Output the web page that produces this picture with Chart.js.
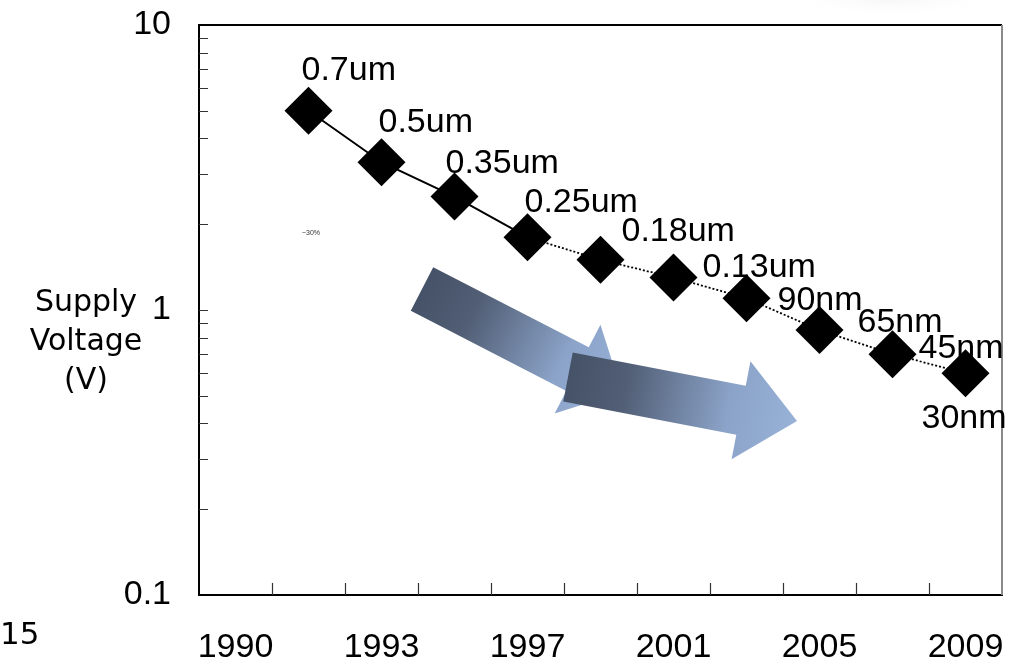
<!DOCTYPE html>
<html>
<head>
<meta charset="utf-8">
<script src="https://cdn.jsdelivr.net/npm/chart.js@4/dist/chart.umd.min.js"></script>
<style>
  body { margin: 0; background: #fff; }
  canvas { display: block; }
</style>
</head>
<body>
<canvas id="vdd_scaling" width="1019" height="664"></canvas>
<script>
// x categories (one band per two years, labels every other band)
const years = ['1990', '', '1993', '', '1997', '', '2001', '', '2005', '', '2009'];
// technology node shown next to each point
const nodes = ['', '0.7um', '0.5um', '0.35um', '0.25um', '0.18um', '0.13um', '90nm', '65nm', '45nm', '30nm'];
// supply voltage (V)
const voltage = [null, 5.0, 3.3, 2.5, 1.8, 1.5, 1.3, 1.1, 0.85, 0.7, 0.6];
// labelled ticks on the log axis
const yMajorTicks = [0.1, 1, 10];

// where each node label sits relative to its point (dx to text start, dy to text middle)
const labelOffsets = [null, [-7, -40], [-3, -40], [-9, -33], [-3, -35], [21, -28], [29, -10], [31, 2], [38, -7], [26, -6], [-44, 45]];

const decorPlugin = {
    id: 'decor',
    beforeDatasetsDraw(chart) {
        const ctx = chart.ctx;
        // two gradient arrows
        const arrows = [
            { x0: 422, y0: 289, x1: 622, y1: 392, shaft: 49, head: 100, headLen: 50 },
            { x0: 568, y0: 377, x1: 797, y1: 421, shaft: 50, head: 100, headLen: 57 }
        ];
        arrows.forEach(a => {
            const len = Math.hypot(a.x1 - a.x0, a.y1 - a.y0);
            const ang = Math.atan2(a.y1 - a.y0, a.x1 - a.x0);
            ctx.save();
            ctx.translate(a.x0, a.y0);
            ctx.rotate(ang);
            const g = ctx.createLinearGradient(0, 0, len, 0);
            g.addColorStop(0, '#465267');
            g.addColorStop(0.25, '#515e75');
            g.addColorStop(0.7, '#8ba3c8');
            g.addColorStop(1, '#98b1d7');
            ctx.fillStyle = g;
            const sb = len - a.headLen;
            ctx.beginPath();
            ctx.moveTo(0, -a.shaft / 2);
            ctx.lineTo(sb, -a.shaft / 2);
            ctx.lineTo(sb, -a.head / 2);
            ctx.lineTo(len, 0);
            ctx.lineTo(sb, a.head / 2);
            ctx.lineTo(sb, a.shaft / 2);
            ctx.lineTo(0, a.shaft / 2);
            ctx.closePath();
            ctx.fill();
            ctx.restore();
        });
    },
    afterDraw(chart) {
        const ctx = chart.ctx;
        const area = chart.chartArea;
        const xs = chart.scales.x;
        const ys = chart.scales.y;
        ctx.save();
        // box: top and right edges
        ctx.strokeStyle = '#000';
        ctx.lineWidth = 2;
        ctx.beginPath();
        ctx.moveTo(area.left, area.top);
        ctx.lineTo(area.right, area.top);
        ctx.stroke();
        ctx.strokeStyle = '#8a8a8a';
        ctx.beginPath();
        ctx.moveTo(area.right, area.top);
        ctx.lineTo(area.right, area.bottom);
        ctx.stroke();

        // inward tick marks
        ctx.strokeStyle = '#333';
        ctx.lineWidth = 1.2;
        ctx.beginPath();
        for (let i = 1; i < years.length; i++) {
            const x = Math.round((xs.getPixelForValue(i - 1) + xs.getPixelForValue(i)) / 2) + 0.5;
            ctx.moveTo(x, area.bottom);
            ctx.lineTo(x, area.bottom - 12);
        }
        ys.ticks.forEach(t => {
            const y = Math.round(ys.getPixelForValue(t.value)) + 0.5;
            if (y <= area.top + 1 || y >= area.bottom - 1) return;
            ctx.moveTo(area.left, y);
            ctx.lineTo(area.left + 9, y);
        });
        ctx.stroke();

        // node labels
        const meta = chart.getDatasetMeta(0);
        ctx.fillStyle = '#000';
        ctx.font = '34px "Liberation Sans", Arial, sans-serif';
        ctx.textAlign = 'left';
        ctx.textBaseline = 'middle';
        meta.data.forEach((pt, i) => {
            if (voltage[i] == null || !nodes[i]) return;
            const off = labelOffsets[i];
            ctx.fillText(nodes[i], pt.x + off[0], pt.y + off[1]);
        });

        // horizontal axis title
        ctx.font = '30px "DejaVu Sans", Verdana, sans-serif';
        ctx.textAlign = 'center';
        ['Supply', 'Voltage', '(V)'].forEach((s, k) => {
            ctx.fillText(s, 86, 303 + k * 39);
        });

        // slide number
        ctx.font = '31px "DejaVu Sans", Verdana, sans-serif';
        ctx.textAlign = 'left';
        ctx.fillText('15', 0, 636);

        // small note
        ctx.font = '7px "Liberation Sans", Arial, sans-serif';
        ctx.fillStyle = '#333';
        ctx.textAlign = 'center';
        ctx.fillText('~30%', 311, 233);

        // faint shape in the top-right corner
        ctx.save();
        ctx.translate(890, 0);
        ctx.scale(1, 0.15);
        const rg = ctx.createRadialGradient(0, 0, 0, 0, 0, 110);
        rg.addColorStop(0, 'rgba(230,230,230,0.35)');
        rg.addColorStop(1, 'rgba(255,255,255,0)');
        ctx.fillStyle = rg;
        ctx.fillRect(-120, -120, 240, 240);
        ctx.restore();
        ctx.restore();
    }
};

const ctx = document.getElementById('vdd_scaling').getContext('2d');
const vddChart = new Chart(ctx, {
    type: 'line',
    data: {
        labels: years,
        datasets: [{
            label: 'Supply voltage',
            data: voltage,
            borderColor: '#000',
            borderWidth: 2,
            backgroundColor: '#000',
            pointStyle: 'rectRot',
            pointRadius: 24,
            pointHoverRadius: 24,
            pointBorderWidth: 0,
            pointBackgroundColor: '#000',
            fill: false,
            clip: false,
            tension: 0,
            segment: {
                borderDash: c => c.p0DataIndex >= 4 ? [2, 2] : undefined,
                borderWidth: c => c.p0DataIndex >= 4 ? 1.8 : 2
            }
        }]
    },
    options: {
        responsive: false,
        animation: false,
        layout: { autoPadding: false, padding: { left: 0, right: 17, top: 25, bottom: 0 } },
        plugins: {
            legend: { display: false },
            tooltip: { enabled: false }
        },
        scales: {
            x: {
                type: 'category',
                offset: true,
                grid: { display: false, drawTicks: false, offset: true },
                border: { display: true, color: '#000', width: 2 },
                ticks: {
                    autoSkip: false,
                    maxRotation: 0,
                    padding: 32,
                    color: '#000',
                    font: { family: '"Liberation Sans", Arial, sans-serif', size: 34 }
                },
                afterFit: s => { s.height = 69; s.paddingLeft = 0; s.paddingRight = 0; }
            },
            y: {
                type: 'logarithmic',
                min: 0.1,
                max: 10,
                grid: { display: false, drawTicks: false },
                border: { display: true, color: '#000', width: 2 },
                afterBuildTicks: s => {
                    const ticks = [];
                    for (let k = 0; k < yMajorTicks.length - 1; k++) {
                        for (let m = 1; m < 10; m++) ticks.push({ value: +(yMajorTicks[k] * m).toPrecision(3) });
                    }
                    ticks.push({ value: yMajorTicks[yMajorTicks.length - 1] });
                    s.ticks = ticks;
                },
                ticks: {
                    autoSkip: false,
                    padding: 28,
                    color: '#000',
                    font: { family: '"Liberation Sans", Arial, sans-serif', size: 34 },
                    callback: v => yMajorTicks.includes(v) ? String(v) : ''
                },
                afterFit: s => { s.width = 199; s.paddingTop = 0; s.paddingBottom = 0; }
            }
        }
    },
    plugins: [decorPlugin]
});
</script>
</body>
</html>
